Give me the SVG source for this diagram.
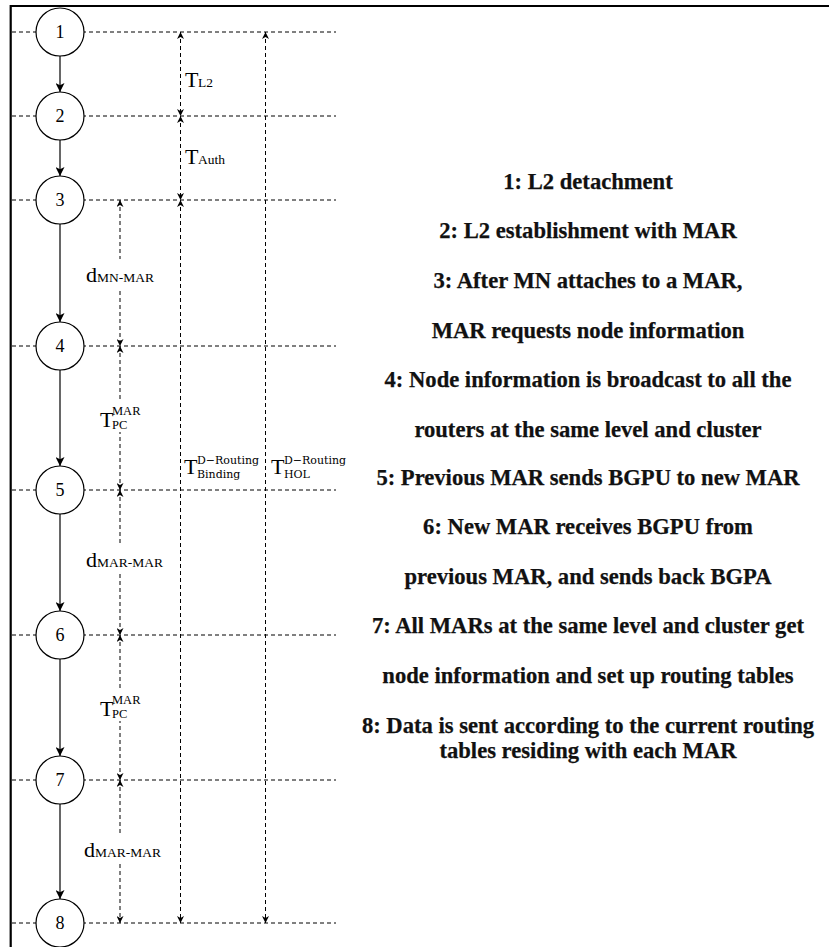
<svg xmlns="http://www.w3.org/2000/svg" width="829" height="947" viewBox="0 0 829 947">
  <style>
    .frame { stroke: #000; stroke-width: 2.2; fill: none; }
    .level { stroke: #000; stroke-width: 1; stroke-dasharray: 4 3; fill: none; }
    .span { stroke: #000; stroke-width: 1; stroke-dasharray: 4 3; fill: none; marker-start: url(#dhead); marker-end: url(#dhead); }
    .flow { stroke: #000; stroke-width: 1.2; fill: none; marker-end: url(#shead); }
    .node circle { fill: #fff; stroke: #000; stroke-width: 1.2; }
    .node text { font-family: "Liberation Serif", "Times New Roman", serif; font-size: 18px; text-anchor: middle; fill: #000; }
    .big { font-family: "Liberation Serif", "Times New Roman", serif; font-size: 22px; fill: #000; }
    .small { font-family: "Liberation Serif", "Times New Roman", serif; font-size: 13.5px; fill: #000; }
    .tiny { font-family: "Liberation Serif", "Times New Roman", serif; font-size: 12.5px; fill: #000; }
    .math { font-family: "DejaVu Serif", "Liberation Serif", serif; font-size: 11px; fill: #000; }
    .legend { font-family: "Liberation Serif", "Times New Roman", serif; font-size: 22.6px; font-weight: bold; text-anchor: middle; fill: #111; stroke: #111; stroke-width: 0.25; }
    .bg { fill: #fff; }
  </style>
  <defs>
    <marker id="shead" viewBox="0 0 10 10" refX="10" refY="5" markerWidth="10" markerHeight="9" markerUnits="userSpaceOnUse" orient="auto">
      <path d="M0,0 L10,5 L0,10 L2.5,5 z" fill="#000"/>
    </marker>
    <marker id="dhead" viewBox="0 0 10 10" refX="10" refY="5" markerWidth="8" markerHeight="7" markerUnits="userSpaceOnUse" orient="auto-start-reverse">
      <path d="M0,0 L10,5 L0,10 L3,5 z" fill="#000"/>
    </marker>
  </defs>

  <rect width="829" height="947" fill="#fff"/>

  <!-- outer frame (top and left edges) -->
  <path class="frame" d="M10.7,947 V6 H829"/>

  <!-- horizontal level lines through each step -->
  <g id="levels">
    <line class="level" x1="12" y1="32" x2="336" y2="32"/>
    <line class="level" x1="12" y1="116" x2="336" y2="116"/>
    <line class="level" x1="12" y1="200" x2="336" y2="200"/>
    <line class="level" x1="12" y1="346" x2="336" y2="346"/>
    <line class="level" x1="12" y1="490" x2="336" y2="490"/>
    <line class="level" x1="12" y1="635" x2="336" y2="635"/>
    <line class="level" x1="12" y1="780" x2="336" y2="780"/>
    <line class="level" x1="12" y1="923" x2="336" y2="923"/>
  </g>

  <!-- connectors: step flow and delay spans -->
  <g id="connectors">
    <line class="flow" x1="60" y1="56" x2="60" y2="92"/>
    <line class="flow" x1="60" y1="140" x2="60" y2="176"/>
    <line class="flow" x1="60" y1="224" x2="60" y2="322"/>
    <line class="flow" x1="60" y1="370" x2="60" y2="466"/>
    <line class="flow" x1="60" y1="514" x2="60" y2="611"/>
    <line class="flow" x1="60" y1="659" x2="60" y2="756"/>
    <line class="flow" x1="60" y1="804" x2="60" y2="899"/>

    <line class="span" x1="120" y1="200" x2="120" y2="346"/>
    <line class="span" x1="120" y1="346" x2="120" y2="490"/>
    <line class="span" x1="120" y1="490" x2="120" y2="635"/>
    <line class="span" x1="120" y1="635" x2="120" y2="780"/>
    <line class="span" x1="120" y1="780" x2="120" y2="923"/>

    <line class="span" x1="180.5" y1="32" x2="180.5" y2="116"/>
    <line class="span" x1="180.5" y1="116" x2="180.5" y2="200"/>
    <line class="span" x1="180.5" y1="200" x2="180.5" y2="923"/>

    <line class="span" x1="265.5" y1="32" x2="265.5" y2="923"/>
  </g>

  <!-- steps -->
  <g id="n1" class="node"><circle cx="60" cy="32" r="24"/><text x="60" y="38">1</text></g>
  <g id="n2" class="node"><circle cx="60" cy="116" r="24"/><text x="60" y="122">2</text></g>
  <g id="n3" class="node"><circle cx="60" cy="200" r="24"/><text x="60" y="206">3</text></g>
  <g id="n4" class="node"><circle cx="60" cy="346" r="24"/><text x="60" y="352">4</text></g>
  <g id="n5" class="node"><circle cx="60" cy="490" r="24"/><text x="60" y="496">5</text></g>
  <g id="n6" class="node"><circle cx="60" cy="635" r="24"/><text x="60" y="641">6</text></g>
  <g id="n7" class="node"><circle cx="60" cy="780" r="24"/><text x="60" y="786">7</text></g>
  <g id="n8" class="node"><circle cx="60" cy="923" r="24"/><text x="60" y="929">8</text></g>

  <!-- delay labels -->
  <g id="labels">
    <text class="big" x="185" y="87">T</text><text class="small" x="198" y="87">L2</text>
    <text class="big" x="185" y="164">T</text><text class="small" x="198" y="164">Auth</text>

    <rect class="bg" x="84" y="259" width="72" height="29"/>
    <text class="big" x="86" y="282">d</text><text class="small" x="97" y="282">MN-MAR</text>

    <rect class="bg" x="98" y="402" width="46" height="30"/>
    <text class="big" x="100" y="427">T</text><text class="tiny" x="112" y="415">MAR</text><text class="tiny" x="112" y="429">PC</text>

    <rect class="bg" x="84" y="546" width="82" height="28"/>
    <text class="big" x="86" y="567">d</text><text class="small" x="97" y="567">MAR-MAR</text>

    <rect class="bg" x="98" y="691" width="46" height="30"/>
    <text class="big" x="100" y="716">T</text><text class="tiny" x="112" y="704">MAR</text><text class="tiny" x="112" y="718">PC</text>

    <rect class="bg" x="82" y="835" width="82" height="28"/>
    <text class="big" x="84" y="857">d</text><text class="small" x="95" y="857">MAR-MAR</text>

    <text class="big" x="184" y="474">T</text><text class="math" x="197" y="464">D−Routing</text><text class="math" x="197" y="478">Binding</text>
    <text class="big" x="271" y="474">T</text><text class="math" x="284" y="464">D−Routing</text><text class="math" x="284" y="478">HOL</text>
  </g>

  <!-- step descriptions -->
  <g id="legend">
    <text class="legend" x="588" y="189">1: L2 detachment</text>
    <text class="legend" x="588" y="238">2: L2 establishment with MAR</text>
    <text class="legend" x="588" y="288">3: After MN attaches to a MAR,</text>
    <text class="legend" x="588" y="338">MAR requests node information</text>
    <text class="legend" x="588" y="387">4: Node information is broadcast to all the</text>
    <text class="legend" x="588" y="437">routers at the same level and cluster</text>
    <text class="legend" x="588" y="485">5: Previous MAR sends BGPU to new MAR</text>
    <text class="legend" x="588" y="534">6: New MAR receives BGPU from</text>
    <text class="legend" x="588" y="584">previous MAR, and sends back BGPA</text>
    <text class="legend" x="588" y="633">7: All MARs at the same level and cluster get</text>
    <text class="legend" x="588" y="683">node information and set up routing tables</text>
    <text class="legend" x="588" y="733">8: Data is sent according to the current routing</text>
    <text class="legend" x="588" y="758">tables residing with each MAR</text>
  </g>
</svg>
